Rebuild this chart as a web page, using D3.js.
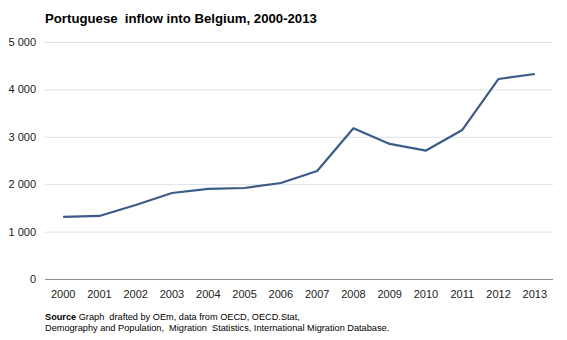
<!DOCTYPE html>
<html><head><meta charset="utf-8">
<script src="https://cdn.jsdelivr.net/npm/d3@7"></script>
<style>body{margin:0;background:#fff;font-family:"Liberation Sans",Arial,sans-serif;} text{white-space:pre;}</style>
</head><body><svg id="c" width="567" height="340"></svg>
<script>
const years = ["2000","2001","2002","2003","2004","2005","2006","2007","2008","2009","2010","2011","2012","2013"];
const inflow = [1310,1330,1560,1815,1900,1920,2025,2280,3180,2850,2710,3145,4220,4325];
const yTicks = [0,1000,2000,3000,4000,5000];

const svg = d3.select("#c");
const m = {left:45, right:553, top:42, bottom:279};
const x = d3.scaleBand().domain(years).range([m.left, m.right]);
const y = d3.scaleLinear().domain([0,5000]).range([m.bottom, m.top]);

svg.append("text").attr("x",45).attr("y",23).attr("font-size",13.2).attr("font-weight","bold")
  .attr("fill","#000").text("Portuguese  inflow into Belgium, 2000-2013");

svg.append("g").selectAll("line").data(yTicks.filter(d=>d>0)).join("line")
  .attr("x1",m.left).attr("x2",m.right).attr("y1",d=>y(d)+0.5).attr("y2",d=>y(d)+0.5)
  .attr("stroke","#dce1e7").attr("stroke-width",1);
svg.append("line").attr("x1",m.left).attr("x2",m.right).attr("y1",y(0)+0.5).attr("y2",y(0)+0.5)
  .attr("stroke","#8c8c8c").attr("stroke-width",1);

svg.append("g").selectAll("text").data(yTicks).join("text")
  .attr("x",36).attr("y",d=>y(d)+4).attr("text-anchor","end").attr("font-size",11).attr("fill","#222")
  .text(d=>d===0?"0":d3.format(",")(d).replace(/,/g," "));

svg.append("g").selectAll("text").data(years).join("text")
  .attr("x",d=>x(d)+x.bandwidth()/2).attr("y",298).attr("text-anchor","middle").attr("font-size",11).attr("fill","#222")
  .text(d=>d);

const line = d3.line().x((d,i)=>x(years[i])+x.bandwidth()/2).y(d=>y(d));
svg.append("path").datum(inflow).attr("d",line).attr("fill","none")
  .attr("stroke","#3b5b88").attr("stroke-width",2.2).attr("stroke-linejoin","round");

const src = svg.append("text").attr("x",45).attr("y",320).attr("font-size",9.2).attr("fill","#000");
src.append("tspan").attr("font-weight","bold").text("Source");
src.append("tspan").text(" Graph  drafted by OEm, data from OECD, OECD.Stat,");
svg.append("text").attr("x",45).attr("y",331).attr("font-size",9.2).attr("fill","#000")
  .text("Demography and Population,  Migration  Statistics, International Migration Database.");
</script></body></html>
